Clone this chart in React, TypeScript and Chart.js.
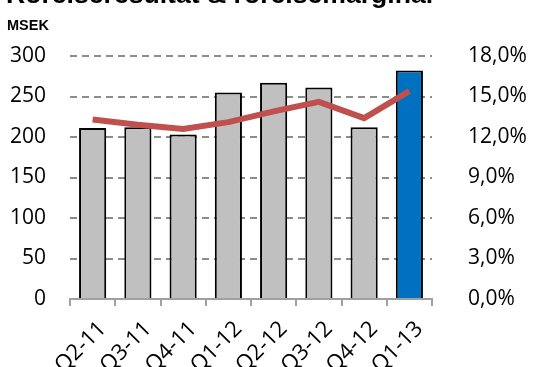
import React, { useEffect, useRef } from "react";
import { Chart, registerables } from "chart.js";

Chart.register(...registerables);

const categories = ["Q2-11", "Q3-11", "Q4-11", "Q1-12", "Q2-12", "Q3-12", "Q4-12", "Q1-13"];
const resultat = [211, 212, 203, 255, 267, 261, 212, 282];
const marginal = [13.3, 12.9, 12.6, 13.1, 13.9, 14.6, 13.4, 15.4];
const leftTicks = [0, 50, 100, 150, 200, 250, 300];
const rightTicks = [0, 3, 6, 9, 12, 15, 18];
const barColors = ["#C0C0C0", "#C0C0C0", "#C0C0C0", "#C0C0C0", "#C0C0C0", "#C0C0C0", "#C0C0C0", "#0070C0"];

const TICK_FONT = { family: "'Open Sans', sans-serif", size: 21 };

export default function App() {
  const ref = useRef<HTMLCanvasElement | null>(null);

  useEffect(() => {
    document.body.style.margin = "0";
    if (!ref.current) return;
    const chart = new Chart(ref.current, {
      data: {
        labels: categories,
        datasets: [
          {
            type: "line",
            label: "Rörelsemarginal",
            data: marginal,
            yAxisID: "y1",
            borderColor: "#C0504D",
            borderWidth: 6,
            pointRadius: 0,
            tension: 0,
            order: 0,
          },
          {
            type: "bar",
            label: "Rörelseresultat",
            data: resultat,
            yAxisID: "y",
            backgroundColor: barColors,
            borderColor: "#000000",
            borderWidth: 2,
            barPercentage: 0.6,
            categoryPercentage: 1,
            order: 1,
          },
        ],
      },
      options: {
        animation: false,
        responsive: false,
        maintainAspectRatio: false,
        layout: { padding: { top: 56, left: 0, right: 0, bottom: 0 } },
        plugins: { legend: { display: false }, tooltip: { enabled: false }, title: { display: false } },
        scales: {
          x: {
            type: "category",
            offset: true,
            grid: {
              display: true,
              drawOnChartArea: false,
              drawTicks: true,
              tickLength: 7,
              color: "#A0A0A0",
              lineWidth: 2,
              offset: true,
            },
            border: { display: true, color: "#A0A0A0", width: 2 },
            ticks: {
              font: { family: "'Open Sans', sans-serif", size: 22 },
              color: "#000",
              maxRotation: 45,
              minRotation: 45,
              padding: 10,
              labelOffset: 10,
              autoSkip: false,
            },
            afterFit: (s: any) => {
              s.height = 68;
            },
          },
          y: {
            position: "left",
            min: 0,
            max: 300,
            afterBuildTicks: (s: any) => {
              s.ticks = leftTicks.map((v) => ({ value: v }));
            },
            grid: {
              drawTicks: false,
              color: "#8C8C8C",
              lineWidth: 2,
            },
            border: { display: false, dash: [7, 5] },
            ticks: {
              font: TICK_FONT,
              color: "#000",
              padding: 24,
            },
            afterFit: (s: any) => {
              s.width = 70;
            },
          },
          y1: {
            position: "right",
            min: 0,
            max: 18,
            afterBuildTicks: (s: any) => {
              s.ticks = rightTicks.map((v) => ({ value: v }));
            },
            grid: { display: false, drawOnChartArea: false, drawTicks: false },
            border: { display: false },
            ticks: {
              font: TICK_FONT,
              color: "#000",
              padding: 36,
              crossAlign: "near",
              callback: (v: any) => Number(v).toFixed(1).replace(".", ",") + "%",
            },
            afterFit: (s: any) => {
              s.width = 102;
            },
          },
        },
      },
    } as any);
    return () => chart.destroy();
  }, []);

  return (
    <div style={{ position: "relative", width: 534, height: 367, overflow: "hidden", background: "#fff" }}>
      <canvas ref={ref} width={534} height={367} style={{ position: "absolute", left: 0, top: 0 }} />
      <div
        style={{
          position: "absolute",
          left: 6,
          top: -20,
          fontFamily: "'Liberation Sans', Arial, sans-serif",
          fontWeight: "bold",
          fontSize: 26.6,
          lineHeight: "29px",
          whiteSpace: "nowrap",
          color: "#000",
        }}
      >
        Rörelseresultat &amp; rörelsemarginal
      </div>
      <div
        style={{
          position: "absolute",
          left: 7,
          top: 17,
          fontFamily: "'Liberation Sans', Arial, sans-serif",
          fontWeight: "bold",
          fontSize: 14.5,
          lineHeight: "17px",
          whiteSpace: "nowrap",
          color: "#000",
        }}
      >
        MSEK
      </div>
    </div>
  );
}
